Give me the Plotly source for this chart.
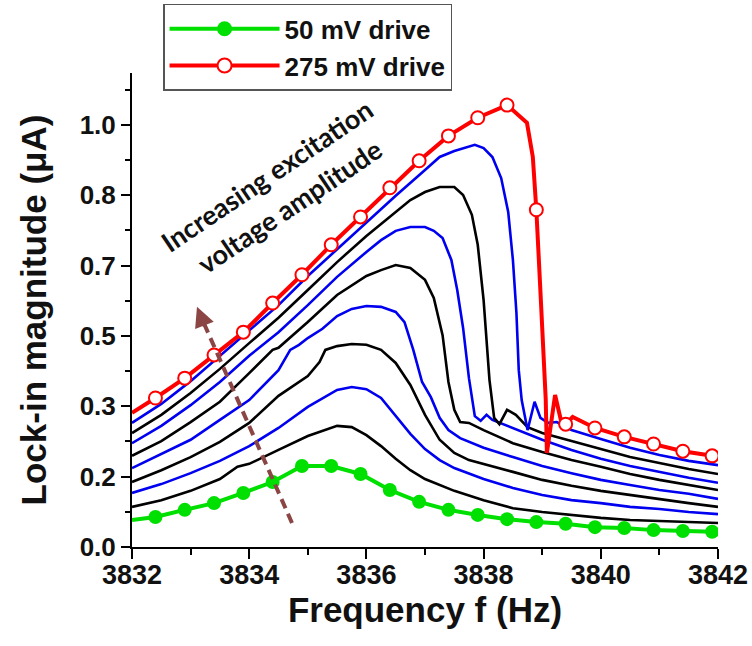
import plotly.graph_objects as go

# ---------------- data (frequency in Hz, lock-in magnitude in axis units) ----------------
green_f = [3832.0, 3832.4, 3832.9, 3833.4, 3833.9, 3834.4, 3834.9, 3835.4, 3835.9, 3836.4, 3836.9,
           3837.4, 3837.9, 3838.4, 3838.9, 3839.4, 3839.9, 3840.4, 3840.9, 3841.4, 3841.9]
green_v = [0.064, 0.071, 0.088, 0.104, 0.128, 0.154, 0.192, 0.192, 0.173, 0.135, 0.107,
           0.088, 0.076, 0.066, 0.059, 0.055, 0.047, 0.045, 0.040, 0.038, 0.036]

red_mark_f = [3832.4, 3832.9, 3833.4, 3833.9, 3834.4, 3834.9, 3835.4, 3835.9, 3836.4, 3836.9,
              3837.4, 3837.9, 3838.4, 3838.9, 3839.4, 3839.9, 3840.4, 3840.9, 3841.4, 3841.9]
red_mark_v = [0.353, 0.400, 0.455, 0.509, 0.578, 0.645, 0.716, 0.782, 0.851, 0.915,
              0.974, 1.017, 1.047, 0.799, 0.291, 0.282, 0.261, 0.244, 0.227, 0.216]
red_extra_f = [3832.0, 3838.62, 3838.74, 3838.84, 3838.96, 3839.01, 3839.06, 3839.08, 3839.22, 3839.35, 3839.52]
red_extra_v = [0.318, 1.019, 1.005, 0.924, 0.633, 0.474, 0.350, 0.223, 0.360, 0.282, 0.308]

c75_f = [3832.0, 3832.5, 3833.0, 3833.5, 3833.8, 3834.0, 3834.5, 3835.0, 3835.5, 3835.75, 3836.0, 3836.25,
         3836.5, 3836.75, 3837.0, 3837.5, 3838.0, 3838.5, 3839.0, 3839.5, 3840.0, 3840.5, 3841.0, 3841.5, 3842.0]
c75_v = [0.095, 0.111, 0.133, 0.161, 0.190, 0.197, 0.230, 0.263, 0.287, 0.284, 0.265, 0.239,
         0.209, 0.182, 0.161, 0.133, 0.111, 0.092, 0.083, 0.076, 0.069, 0.064, 0.062, 0.059, 0.057]

c100_f = [3832.0, 3832.5, 3833.0, 3833.5, 3834.0, 3834.5, 3835.0, 3835.25, 3835.5, 3835.75, 3836.0, 3836.25,
          3836.5, 3836.75, 3837.0, 3837.25, 3837.5, 3838.0, 3838.5, 3839.0, 3839.5, 3840.0, 3840.5, 3841.0,
          3841.5, 3842.0]
c100_v = [0.128, 0.149, 0.175, 0.204, 0.239, 0.282, 0.332, 0.353, 0.372, 0.379, 0.374, 0.353,
          0.310, 0.268, 0.232, 0.206, 0.187, 0.161, 0.140, 0.123, 0.111, 0.104, 0.095, 0.090,
          0.083, 0.078]

c125_f = [3832.0, 3832.5, 3833.0, 3833.5, 3834.0, 3834.5, 3835.0, 3835.2, 3835.3, 3835.5, 3835.75, 3836.0,
          3836.25, 3836.5, 3836.75, 3837.0, 3837.25, 3837.5, 3837.75, 3838.0, 3838.5, 3839.0, 3839.5,
          3840.0, 3840.5, 3841.0, 3841.5, 3842.0]
c125_v = [0.154, 0.182, 0.213, 0.249, 0.294, 0.358, 0.405, 0.438, 0.467, 0.476, 0.481, 0.479,
          0.467, 0.436, 0.384, 0.313, 0.254, 0.223, 0.206, 0.197, 0.178, 0.159, 0.145,
          0.133, 0.123, 0.114, 0.104, 0.095]

c150_f = [3832.0, 3832.5, 3833.0, 3833.5, 3834.0, 3834.5, 3834.7, 3834.85, 3835.0, 3835.25, 3835.5, 3835.75,
          3836.0, 3836.25, 3836.5, 3836.65, 3836.8, 3836.95, 3837.1, 3837.25, 3837.4, 3837.6, 3838.0,
          3838.5, 3839.0, 3839.5, 3840.0, 3840.5, 3841.0, 3841.5, 3842.0]
c150_v = [0.187, 0.220, 0.254, 0.301, 0.348, 0.419, 0.467, 0.479, 0.495, 0.517, 0.547, 0.564,
          0.571, 0.569, 0.557, 0.533, 0.467, 0.391, 0.355, 0.306, 0.277, 0.258, 0.235,
          0.213, 0.192, 0.175, 0.159, 0.147, 0.135, 0.126, 0.114]

c175_f = [3832.0, 3832.5, 3833.0, 3833.5, 3834.0, 3834.3, 3834.4, 3834.5, 3835.0, 3835.5, 3836.0, 3836.25,
          3836.5, 3836.75, 3837.0, 3837.15, 3837.3, 3837.4, 3837.5, 3837.6, 3837.75, 3838.0, 3838.25,
          3838.5, 3839.0, 3839.5, 3840.0, 3840.5, 3841.0, 3841.5, 3842.0]
c175_v = [0.216, 0.251, 0.296, 0.344, 0.412, 0.453, 0.467, 0.472, 0.533, 0.597, 0.642, 0.656,
          0.668, 0.661, 0.633, 0.590, 0.502, 0.391, 0.325, 0.296, 0.294, 0.277, 0.261,
          0.246, 0.225, 0.206, 0.190, 0.173, 0.159, 0.147, 0.135]

c200_f = [3832.0, 3832.5, 3833.0, 3833.5, 3834.0, 3834.5, 3835.0, 3835.5, 3836.0, 3836.25, 3836.5, 3836.75,
          3837.0, 3837.15, 3837.3, 3837.45, 3837.55, 3837.65, 3837.75, 3837.85, 3837.95, 3838.05,
          3838.15, 3838.5, 3839.0, 3839.5, 3840.0, 3840.5, 3841.0, 3841.5, 3842.0]
c200_v = [0.246, 0.287, 0.336, 0.391, 0.453, 0.509, 0.573, 0.640, 0.699, 0.727, 0.749, 0.758,
          0.758, 0.749, 0.732, 0.680, 0.609, 0.519, 0.400, 0.310, 0.299, 0.313,
          0.301, 0.282, 0.254, 0.230, 0.209, 0.192, 0.178, 0.164, 0.152]

c225_f = [3832.0, 3832.5, 3833.0, 3833.5, 3834.0, 3834.5, 3835.0, 3835.5, 3836.0, 3836.5, 3836.75, 3837.0,
          3837.25, 3837.5, 3837.65, 3837.8, 3837.9, 3838.0, 3838.1, 3838.18, 3838.27, 3838.4, 3838.55,
          3838.75, 3839.0, 3839.5, 3840.0, 3840.5, 3841.0, 3841.5, 3842.0]
c225_v = [0.270, 0.313, 0.365, 0.422, 0.483, 0.543, 0.609, 0.675, 0.737, 0.794, 0.822, 0.841,
          0.853, 0.853, 0.834, 0.787, 0.716, 0.585, 0.396, 0.306, 0.291, 0.325, 0.313,
          0.284, 0.270, 0.251, 0.232, 0.213, 0.199, 0.185, 0.173]

c250_f = [3832.0, 3832.5, 3833.0, 3833.5, 3834.0, 3834.5, 3835.0, 3835.5, 3836.0, 3836.5, 3837.0, 3837.25,
          3837.5, 3837.75, 3837.85, 3838.0, 3838.15, 3838.3, 3838.42, 3838.5, 3838.56, 3838.6, 3838.65,
          3838.75, 3838.87, 3838.97, 3839.1, 3839.25, 3839.5, 3840.0, 3840.5, 3841.0, 3841.5, 3842.0]
c250_v = [0.294, 0.339, 0.393, 0.453, 0.514, 0.573, 0.642, 0.706, 0.770, 0.832, 0.893, 0.924,
          0.938, 0.948, 0.953, 0.945, 0.924, 0.874, 0.794, 0.680, 0.555, 0.419, 0.348,
          0.277, 0.344, 0.306, 0.294, 0.296, 0.277, 0.256, 0.235, 0.218, 0.204, 0.194]

mid_curves = [(c75_f, c75_v, "black"), (c100_f, c100_v, "blue"), (c125_f, c125_v, "black"),
              (c150_f, c150_v, "blue"), (c175_f, c175_v, "black"), (c200_f, c200_v, "blue"),
              (c225_f, c225_v, "black"), (c250_f, c250_v, "blue")]

x_ticks = [3832, 3834, 3836, 3838, 3840, 3842]
y_tick_labels = ["0.0", "0.2", "0.3", "0.5", "0.7", "0.8", "1.0"]

# ---------------- figure ----------------
GREEN = "#00E000"
RED = "#FF0000"

fig = go.Figure()

for f, v, col in mid_curves:
    fig.add_trace(go.Scatter(x=f, y=v, mode="lines",
                             line=dict(color="#0000F0" if col == "blue" else "#000000", width=2.6),
                             showlegend=False, hoverinfo="skip"))

fig.add_trace(go.Scatter(x=green_f, y=green_v, mode="lines", line=dict(color=GREEN, width=4),
                         showlegend=False))
fig.add_trace(go.Scatter(x=green_f[1:], y=green_v[1:], mode="markers",
                         marker=dict(color=GREEN, size=14, line=dict(width=0)), showlegend=False))

red_pts = sorted(zip(red_mark_f + red_extra_f, red_mark_v + red_extra_v))
fig.add_trace(go.Scatter(x=[p[0] for p in red_pts], y=[p[1] for p in red_pts], mode="lines",
                         line=dict(color=RED, width=4), showlegend=False))
fig.add_trace(go.Scatter(x=red_mark_f, y=red_mark_v, mode="markers",
                         marker=dict(color="white", size=13, line=dict(color=RED, width=2)),
                         showlegend=False))

# legend entries
fig.add_trace(go.Scatter(x=[None], y=[None], mode="lines+markers", name="50 mV drive",
                         line=dict(color=GREEN, width=4), marker=dict(color=GREEN, size=15)))
fig.add_trace(go.Scatter(x=[None], y=[None], mode="lines+markers", name="275 mV drive",
                         line=dict(color=RED, width=4),
                         marker=dict(color="white", size=14, line=dict(color=RED, width=2))))

# dashed arrow
ARROW = "#8B4545"
fig.add_shape(type="line", x0=3834.73, y0=0.057, x1=3833.17, y1=0.548,
              line=dict(color=ARROW, width=4, dash="10px,6px"))
fig.add_annotation(x=3833.109, y=0.569, ax=3833.25, ay=0.520, axref="x", ayref="y",
                   xref="x", yref="y", text="", showarrow=True, arrowhead=2,
                   arrowsize=1.0, arrowwidth=4, arrowcolor=ARROW)

ann_font = dict(family="Lato, Open Sans, sans-serif", size=27, color="#111111", weight="bold")
fig.add_annotation(x=3834.30, y=0.880, xref="x", yref="y", text="Increasing excitation",
                   showarrow=False, textangle=-34, font=ann_font, xanchor="center", yanchor="middle")
fig.add_annotation(x=3834.68, y=0.807, xref="x", yref="y", text="voltage amplitude",
                   showarrow=False, textangle=-34, font=ann_font, xanchor="center", yanchor="middle")

bold_font = "Liberation Sans, Arial, sans-serif"
fig.update_layout(
    width=752, height=646,
    margin=dict(l=132, r=34, t=73, b=99, autoexpand=False),
    paper_bgcolor="white", plot_bgcolor="white",
    showlegend=True,
    legend=dict(x=0.053, y=1.146, xanchor="left", yanchor="top",
                bgcolor="white", bordercolor="#555555", borderwidth=1.5,
                font=dict(family=bold_font, size=26, color="#111111", weight="bold"),
                itemwidth=110, tracegroupgap=0),
    xaxis=dict(range=[3832, 3842], tickvals=x_ticks, ticks="outside", ticklen=10, tickwidth=2,
               tickcolor="black", showline=True, linecolor="black", linewidth=2,
               showgrid=False, zeroline=False, automargin=False,
               minor=dict(dtick=1, tick0=3833, ticks="outside", ticklen=6, tickwidth=2, tickcolor="black"),
               tickfont=dict(family=bold_font, size=27, color="#111111", weight="bold"),
               ticklabelstandoff=-7,
               title=dict(text="Frequency f (Hz)", standoff=0,
                          font=dict(family=bold_font, size=35, color="#111111", weight="bold"))),
    yaxis=dict(range=[0, 1.123], tickvals=[k / 6 for k in range(7)], ticktext=y_tick_labels,
               ticks="outside", ticklen=9, tickwidth=2, tickcolor="black",
               showline=True, linecolor="black", linewidth=2, showgrid=False, zeroline=False,
               automargin=False,
               minor=dict(tick0=1 / 12, dtick=1 / 6, ticks="outside", ticklen=5, tickwidth=2, tickcolor="black"),
               tickfont=dict(family=bold_font, size=26, color="#111111", weight="bold"),
               title=dict(text="\u00a0\u00a0Lock-in magnitude (μA)", standoff=22,
                          font=dict(family=bold_font, size=35, color="#111111", weight="bold"))),
)

fig.write_html("out.html")
